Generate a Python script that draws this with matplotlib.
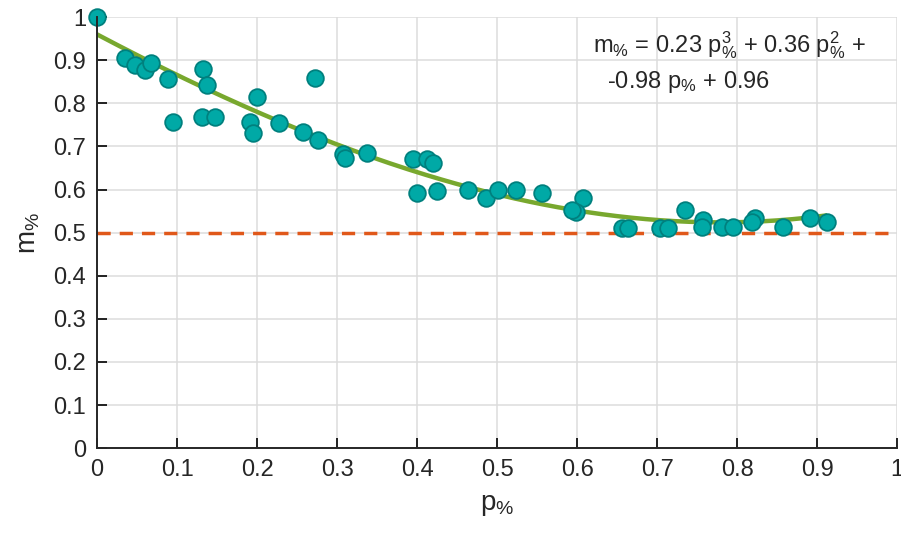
import numpy as np
from matplotlib import pyplot as plt

# measured points (p_%, m_%)
p_vals = [0.0, 0.035, 0.0475, 0.06, 0.0675, 0.089, 0.095, 0.1325, 0.1375, 0.131, 0.1475,
          0.2, 0.191, 0.195, 0.2275, 0.2725, 0.2575, 0.276, 0.3075, 0.31, 0.3375,
          0.395, 0.4125, 0.42, 0.4, 0.425, 0.464, 0.486, 0.501, 0.524, 0.556,
          0.6075, 0.599, 0.594, 0.656, 0.664, 0.704, 0.714, 0.735, 0.7575, 0.756,
          0.781, 0.795, 0.8225, 0.819, 0.8575, 0.891, 0.9125]
m_vals = [1.0, 0.905, 0.889, 0.877, 0.893, 0.856, 0.756, 0.879, 0.842, 0.768, 0.768,
          0.814, 0.756, 0.731, 0.754, 0.858, 0.733, 0.715, 0.682, 0.673, 0.684,
          0.670, 0.670, 0.661, 0.592, 0.596, 0.599, 0.580, 0.599, 0.599, 0.592,
          0.580, 0.548, 0.552, 0.511, 0.511, 0.511, 0.511, 0.552, 0.529, 0.513,
          0.513, 0.513, 0.534, 0.524, 0.513, 0.534, 0.524]
fit_coefs = [0.23, 0.36, -0.98, 0.96]
fit_range = [0.0, 0.91]
threshold = 0.5

plt.rcParams['font.family'] = ['Liberation Sans', 'DejaVu Sans']
plt.rcParams['mathtext.fontset'] = 'custom'
plt.rcParams['mathtext.rm'] = 'Liberation Sans'
plt.rcParams['mathtext.it'] = 'Liberation Sans'

fig = plt.figure(figsize=(9.01, 5.36), dpi=100)
ax = fig.add_axes([0.1077, 0.164, 0.888, 0.804])

ax.axhline(threshold, color='#E0581A', lw=2.5, dashes=(3.8, 2.6), zorder=2)

pp = np.linspace(fit_range[0], fit_range[1], 200)
ax.plot(pp, np.polyval(fit_coefs, pp), color='#78A82E', lw=3.2, zorder=3)

ax.plot(p_vals, m_vals, 'o', ms=12, mfc='#00A9A6', mec='#00807E', mew=1.3,
        zorder=4, clip_on=False)

ax.set_xlim(0, 1)
ax.set_ylim(0, 1)
ticks = np.round(np.arange(0, 1.01, 0.1), 1)
ax.set_xticks(ticks)
ax.set_yticks(ticks)
ax.set_xticklabels(['%g' % t for t in ticks])
ax.set_yticklabels(['%g' % t for t in ticks])
ax.tick_params(direction='in', length=7, width=1.2, labelsize=17,
               labelcolor='#262626', pad=8)
ax.grid(True, color='#DCDCDC', lw=1.1)
ax.set_axisbelow(True)
for s in ['top', 'right']:
    ax.spines[s].set_visible(False)
for s in ['left', 'bottom']:
    ax.spines[s].set_linewidth(1.4)
    ax.spines[s].set_color('#262626')
    ax.spines[s].set_zorder(5)

ax.set_xlabel(r'$\mathregular{p_{\%}}$', fontsize=20, color='#262626', labelpad=8)
ax.set_ylabel(r'$\mathregular{m_{\%}}$', fontsize=20, color='#262626', labelpad=8)

ax.text(0.62, 0.919, r'$\mathregular{m_{\%}}$ = 0.23 $\mathregular{p_{\%}^{3}}$ + 0.36 $\mathregular{p_{\%}^{2}}$ +',
        fontsize=17, color='#262626', ha='left', va='baseline')
ax.text(0.6375, 0.835, r'-0.98 $\mathregular{p_{\%}}$ + 0.96',
        fontsize=17, color='#262626', ha='left', va='baseline')

fig.savefig('out.png', dpi=100)
